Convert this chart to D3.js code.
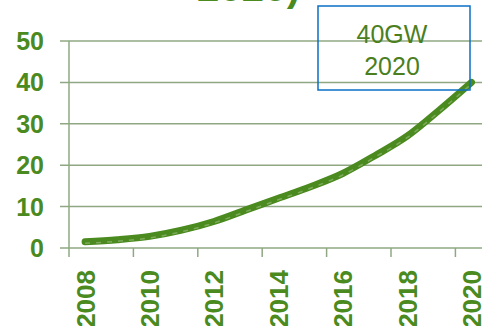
<!DOCTYPE html>
<html>
<head>
<meta charset="utf-8">
<script src="https://cdn.jsdelivr.net/npm/d3@7"></script>
<style>
  body { margin: 0; background: #fff; }
  svg { display: block; }
</style>
</head>
<body>
<svg width="482" height="326"></svg>
<script>
'use strict';

var years = [2008, 2009, 2010, 2011, 2012, 2013, 2014, 2015, 2016, 2017, 2018, 2019, 2020];
var capacity = [1.5, 2.0, 2.8, 4.3, 6.4, 9.2, 12.0, 14.8, 18.0, 22.3, 27.0, 33.3, 40.0];
var yTicks = [0, 10, 20, 30, 40, 50];
var xLabels = [2008, 2010, 2012, 2014, 2016, 2018, 2020];
var boxLines = ['40GW', '2020'];
var titleText = '2020)';

var green = '#4a8a1e';
var gridColor = '#8fa882';

var svg = d3.select('svg');

var x = d3.scaleBand()
    .domain(years)
    .range([69, 69 + 13 * 32.2]);

var y = d3.scaleLinear()
    .domain([0, 50])
    .range([248, 41]);

// cut-off title at the top, only its bottom edge shows
svg.append('text')
    .attr('x', 197)
    .attr('y', 1)
    .attr('font-family', 'Liberation Sans, Arial, sans-serif')
    .attr('font-weight', 'bold')
    .attr('font-size', 40)
    .attr('fill', green)
    .attr('textLength', 103)
    .text(titleText);

// gridlines
svg.append('g')
    .selectAll('line')
    .data(yTicks)
    .enter().append('line')
    .attr('x1', 60)
    .attr('x2', 482)
    .attr('y1', function (d) { return y(d); })
    .attr('y2', function (d) { return y(d); })
    .attr('stroke', gridColor)
    .attr('stroke-width', 1.5);

// y axis line
svg.append('line')
    .attr('x1', 69).attr('x2', 69)
    .attr('y1', y(50)).attr('y2', 257)
    .attr('stroke', gridColor)
    .attr('stroke-width', 1.5);

// x ticks every two categories
svg.append('g')
    .selectAll('line')
    .data(xLabels.slice(1))
    .enter().append('line')
    .attr('x1', function (d) { return x(d); })
    .attr('x2', function (d) { return x(d); })
    .attr('y1', y(0))
    .attr('y2', 257)
    .attr('stroke', gridColor)
    .attr('stroke-width', 1.5);

// y labels
svg.append('g')
    .selectAll('text')
    .data(yTicks)
    .enter().append('text')
    .attr('x', 44)
    .attr('y', function (d) { return y(d) + 9; })
    .attr('text-anchor', 'end')
    .attr('font-family', 'Liberation Sans, Arial, sans-serif')
    .attr('font-weight', 'bold')
    .attr('font-size', 25)
    .attr('fill', green)
    .text(function (d) { return d; });

// x labels, rotated
svg.append('g')
    .selectAll('text')
    .data(xLabels)
    .enter().append('text')
    .attr('transform', function (d) {
        var cx = x(d) + x.bandwidth() / 2 + 9.5;
        return 'translate(' + cx + ',270) rotate(-90)';
    })
    .attr('text-anchor', 'end')
    .attr('font-family', 'Liberation Sans, Arial, sans-serif')
    .attr('font-weight', 'bold')
    .attr('font-size', 26)
    .attr('fill', green)
    .text(function (d) { return d; });

// the curve
var line = d3.line()
    .x(function (d, i) { return x(years[i]) + x.bandwidth() / 2; })
    .y(function (d) { return y(d); })
    .curve(d3.curveMonotoneX);

svg.append('path')
    .datum(capacity)
    .attr('d', line)
    .attr('fill', 'none')
    .attr('stroke', green)
    .attr('stroke-width', 7)
    .attr('stroke-linecap', 'round');

svg.append('path')
    .datum(capacity)
    .attr('d', line)
    .attr('transform', 'translate(0,1.5)')
    .attr('fill', 'none')
    .attr('stroke', '#8bb36a')
    .attr('stroke-width', 1.5)
    .attr('stroke-dasharray', '5,6')
    .attr('opacity', 0.8);

// annotation box
svg.append('rect')
    .attr('x', 318)
    .attr('y', 6)
    .attr('width', 152)
    .attr('height', 84)
    .attr('fill', 'none')
    .attr('stroke', '#0b6fc6')
    .attr('stroke-width', 1.5);

svg.append('g')
    .selectAll('text')
    .data(boxLines)
    .enter().append('text')
    .attr('x', 392)
    .attr('y', function (d, i) { return 43 + i * 32; })
    .attr('text-anchor', 'middle')
    .attr('font-family', 'Liberation Sans, Arial, sans-serif')
    .attr('font-size', 25)
    .attr('fill', '#4b7f1e')
    .text(function (d) { return d; });
</script>
</body>
</html>
